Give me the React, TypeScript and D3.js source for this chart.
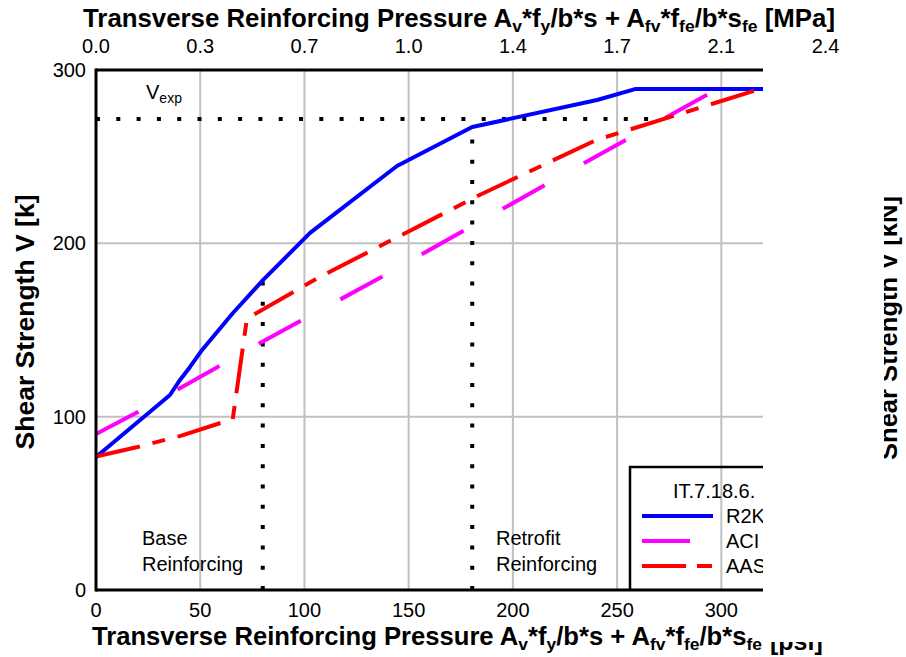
import React from "react";
import * as d3 from "d3";

// ---- data ----
const xTicks = [0, 50, 100, 150, 200, 250, 300];
const xTickLabels = ["0", "50", "100", "150", "200", "250", "300"];
const topTickPsi = [0, 50, 100, 150, 200, 250, 300, 350];
const topTickLabels = ["0.0", "0.3", "0.7", "1.0", "1.4", "1.7", "2.1", "2.4"];
const yTicks = [0, 100, 200, 300];
const yTickLabels = ["0", "100", "200", "300"];
const yGrid = [100, 200];

const r2kX = [0, 35.5, 40.3, 45.1, 50.9, 65.7, 80.1, 102.7, 144.4, 180.5, 240.4, 258.6, 320];
const r2kV = [76.7, 112.5, 121.2, 128.7, 138.5, 159.8, 178.8, 206.0, 244.6, 267.1, 282.7, 289.0, 289.0];

const aciX = [0, 20.1, 78.7, 136.1, 233.4, 291.2, 298];
const aciV = [90, 102.7, 142.5, 180.0, 245.8, 284.4, 289];

const aashtoX = [0, 20, 40.2, 65.6, 72.4, 107.3, 146.6, 184, 240, 320];
const aashtoV = [77, 82.5, 88.8, 98.6, 156.6, 180.6, 204.8, 227.9, 259.6, 289.6];

const vExp = 271.7;
const vExpEndX = 272;
const baseX = 80;
const baseTopV = 178.8;
const retrofitX = 180.5;
const retrofitTopV = 267.1;

const legendTitle = "IT.7.18.6.";
const seriesNames = ["R2K", "ACI", "AASHTO"];
const seriesColors = ["#0000ff", "#ff00ff", "#ff0000"];
const seriesDash = ["none", "48 45", "45 13 13 13"];

// ---- layout ----
const W = 906;
const H = 657;
const L = 96, R = 763, T = 70, B = 590;
const FONT = "'Liberation Sans', Arial, sans-serif";

export default function App() {
  const x = d3.scaleLinear().domain([0, 320]).range([L, R]);
  const y = d3.scaleLinear().domain([0, 300]).range([B, T]);
  const line = d3
    .line<[number, number]>()
    .x((d) => x(d[0]))
    .y((d) => y(d[1]));

  const series = [
    r2kX.map((v, i) => [v, r2kV[i]] as [number, number]),
    aciX.map((v, i) => [v, aciV[i]] as [number, number]),
    aashtoX.map((v, i) => [v, aashtoV[i]] as [number, number]),
  ];

  const titleParts = (end: string) => (
    <>
      {"Transverse Reinforcing Pressure A"}
      <tspan fontSize={17} dy={5}>v</tspan>
      <tspan dy={-5}>*f</tspan>
      <tspan fontSize={17} dy={5}>y</tspan>
      <tspan dy={-5}>/b*s + A</tspan>
      <tspan fontSize={17} dy={5}>fv</tspan>
      <tspan dy={-5}>*f</tspan>
      <tspan fontSize={17} dy={5}>fe</tspan>
      <tspan dy={-5}>/b*s</tspan>
      <tspan fontSize={17} dy={5}>fe</tspan>
      <tspan dy={-5}>{end}</tspan>
    </>
  );

  const legY = [516, 541, 566];

  return (
    <svg
      width={W}
      height={H}
      style={{ position: "absolute", left: 0, top: 0, display: "block", background: "#fff" }}
      fontFamily={FONT}
    >
      <defs>
        <clipPath id="plotClip">
          <rect x={L - 4} y={T - 4} width={R - L + 4} height={B - T + 8} />
        </clipPath>
        <clipPath id="psiClip">
          <rect x={740} y={642} width={166} height={20} />
        </clipPath>
        <clipPath id="rightClip">
          <rect x={884} y={0} width={30} height={H} />
        </clipPath>
      </defs>

      {/* top title */}
      <text x={83} y={27} fontSize={25} fontWeight="bold" fill="#000" textLength={752} lengthAdjust="spacingAndGlyphs">
        {titleParts(" [MPa]")}
      </text>
      {/* top tick labels */}
      {topTickPsi.map((p, i) => (
        <text key={"tt" + i} x={x(p)} y={53} fontSize={20} textAnchor="middle" fill="#000">
          {topTickLabels[i]}
        </text>
      ))}

      {/* y tick labels */}
      {yTicks.map((v, i) => (
        <text key={"yt" + i} x={86} y={y(v)} dy="0.35em" fontSize={20} textAnchor="end" fill="#000">
          {yTickLabels[i]}
        </text>
      ))}
      {/* bottom tick labels */}
      {xTicks.map((v, i) => (
        <text key={"xt" + i} x={x(v)} y={617} fontSize={20} textAnchor="middle" fill="#000">
          {xTickLabels[i]}
        </text>
      ))}

      {/* left y title */}
      <text
        transform={`translate(34,322) rotate(-90)`}
        fontSize={25}
        fontWeight="bold"
        textAnchor="middle"
        fill="#000"
        textLength={255}
        lengthAdjust="spacingAndGlyphs"
      >
        Shear Strength V [k]
      </text>
      {/* right y title (clipped) */}
      <g clipPath="url(#rightClip)">
        <text
          transform={`translate(897,328) rotate(-90)`}
          fontSize={25}
          fontWeight="bold"
          textAnchor="middle"
          fill="#000"
          textLength={264}
          lengthAdjust="spacingAndGlyphs"
        >
          Shear Strength V [kN]
        </text>
      </g>

      {/* bottom title */}
      <text x={92} y={645} fontSize={25} fontWeight="bold" fill="#000" textLength={670} lengthAdjust="spacingAndGlyphs">
        {titleParts("")}
      </text>
      <g clipPath="url(#psiClip)">
        <text x={770} y={650} fontSize={25} fontWeight="bold" fill="#000">
          [psi]
        </text>
      </g>

      <g clipPath="url(#plotClip)">
        {/* grid */}
        {xTicks.filter((v) => v > 0).map((v) => (
          <line key={"gx" + v} x1={x(v)} x2={x(v)} y1={T} y2={B} stroke="#c0c0c0" strokeWidth={2} />
        ))}
        {yGrid.map((v) => (
          <line key={"gy" + v} x1={L} x2={R} y1={y(v)} y2={y(v)} stroke="#c0c0c0" strokeWidth={2} />
        ))}

        {/* Vexp and reinforcing dotted lines */}
        <line x1={x(0)} x2={x(vExpEndX)} y1={y(vExp)} y2={y(vExp)} stroke="#000" strokeWidth={4} strokeDasharray="4 16.3" />
        <line x1={x(baseX)} x2={x(baseX)} y1={y(0)} y2={y(baseTopV)} stroke="#000" strokeWidth={4} strokeDasharray="4 16.3" />
        <line x1={x(retrofitX)} x2={x(retrofitX)} y1={y(0)} y2={y(retrofitTopV)} stroke="#000" strokeWidth={4} strokeDasharray="4 16.3" />

        {/* series */}
        {series.map((s, i) => (
          <path
            key={"s" + i}
            d={line(s) || ""}
            fill="none"
            stroke={seriesColors[i]}
            strokeWidth={4}
            strokeDasharray={seriesDash[i]}
            strokeLinejoin="round"
          />
        ))}

        {/* annotations */}
        <text x={146} y={99} fontSize={20} fill="#000">
          V<tspan fontSize={14} dy={3.5}>exp</tspan>
        </text>
        <text x={142} y={545} fontSize={20} fill="#000">Base</text>
        <text x={142} y={571} fontSize={20} fill="#000">Reinforcing</text>
        <text x={496} y={545} fontSize={20} fill="#000">Retrofit</text>
        <text x={496} y={571} fontSize={20} fill="#000">Reinforcing</text>

        {/* legend */}
        <path d={`M630,${B} V467 H800`} fill="none" stroke="#000" strokeWidth={2.5} />
        <text x={673} y={498} fontSize={20} fill="#000">{legendTitle}</text>
        {seriesNames.map((n, i) => (
          <g key={"lg" + i}>
            <line
              x1={642}
              x2={713}
              y1={legY[i]}
              y2={legY[i]}
              stroke={seriesColors[i]}
              strokeWidth={4}
              strokeDasharray={i === 2 ? "44 11 15 30" : seriesDash[i]}
            />
            <text x={726} y={legY[i] + 7} fontSize={20} fill="#000">{n}</text>
          </g>
        ))}
      </g>

      {/* frame */}
      <line x1={L} x2={L} y1={T - 1.5} y2={B + 1.5} stroke="#000" strokeWidth={3} />
      <line x1={L} x2={R} y1={T} y2={T} stroke="#000" strokeWidth={3} />
      <line x1={L} x2={R} y1={B} y2={B} stroke="#000" strokeWidth={3} />
    </svg>
  );
}
